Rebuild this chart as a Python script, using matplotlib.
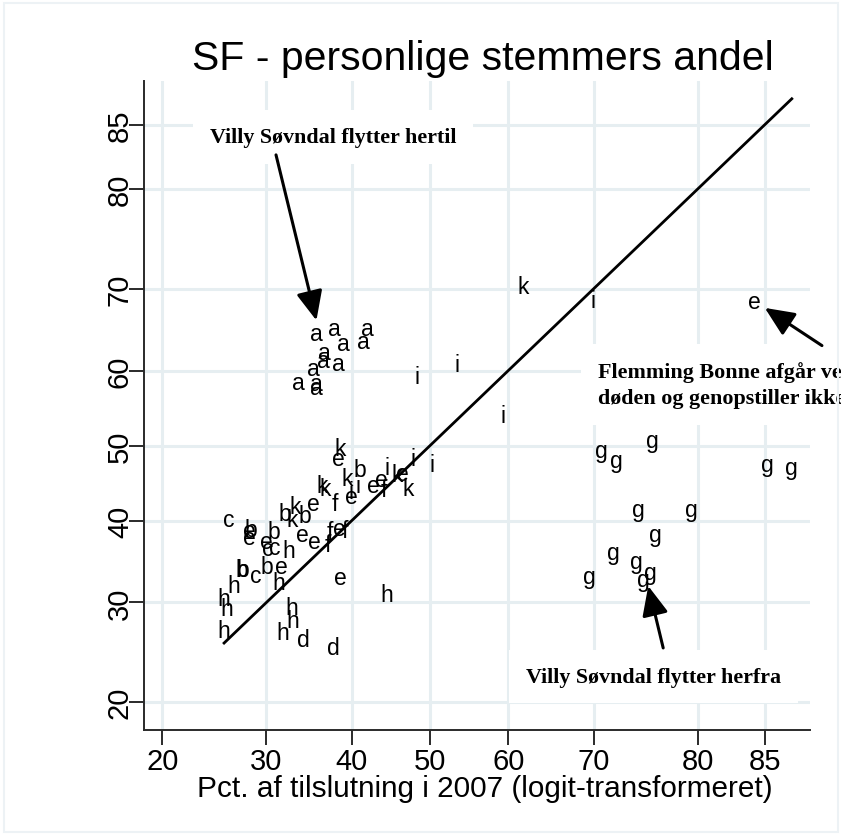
import numpy as np
import matplotlib
matplotlib.use("Agg")
import matplotlib.pyplot as plt
from matplotlib.patches import Rectangle

plt.rcParams['font.family'] = ['Liberation Sans', 'DejaVu Sans']

# ---------------- data ----------------
labels = (['a'] * 12 + ['b'] * 8 + ['c'] * 4 + ['d'] * 2 + ['e'] * 15 +
          ['f'] * 5 + ['g'] * 13 + ['h'] * 10 + ['i'] * 9 + ['k'] * 9)

pct_2007 = [
    # a
    35.7, 37.9, 41.9, 39.0, 41.4, 36.7, 36.5, 38.3, 35.3, 33.6, 35.7, 35.7,
    # b
    28.3, 30.8, 27.4, 27.5, 30.1, 32.1, 34.3, 41.0,
    # c
    26.1, 30.1, 30.9, 28.8,
    # d
    34.2, 37.7,
    # e
    28.2, 28.2, 30.0, 31.7, 34.0, 35.4, 38.6, 38.5, 35.3, 38.3, 39.9, 42.7, 43.8, 46.4, 84.3,
    # f
    37.3, 39.2, 37.1, 37.9, 44.1,
    # g
    70.9, 72.4, 76.0, 85.2, 86.7, 74.6, 79.5, 76.3, 72.1, 74.4, 75.8, 75.1, 69.5,
    # h
    32.5, 31.3, 26.6, 25.6, 25.9, 25.6, 32.8, 32.9, 31.8, 44.4,
    # i
    48.3, 53.5, 69.9, 59.4, 47.8, 50.3, 40.8, 44.5, 39.9,
    # k
    61.9, 38.6, 39.4, 36.4, 36.7, 47.2, 33.2, 32.9, 45.7,
]

pct_personal = [
    # a
    64.7, 65.3, 65.3, 63.4, 63.7, 62.3, 61.3, 60.9, 60.3, 58.4, 58.3, 57.8,
    # b
    38.9, 38.6, 33.9, 33.9, 34.2, 40.9, 40.7, 46.8,
    # c
    40.1, 36.5, 36.6, 33.1,
    # d
    26.0, 25.1,
    # e
    38.7, 37.9, 37.3, 34.2, 38.2, 37.3, 32.9, 39.0, 42.2, 48.3, 43.2, 44.6, 45.4, 46.2, 68.6,
    # f
    38.6, 38.7, 37.0, 42.2, 44.1,
    # g
    49.3, 48.0, 50.7, 47.5, 47.1, 41.5, 41.5, 38.2, 35.9, 34.9, 33.5, 32.7, 33.0,
    # h
    36.2, 32.3, 31.9, 30.5, 29.3, 26.9, 29.4, 28.0, 26.7, 30.9,
    # i
    59.2, 60.8, 68.7, 54.0, 48.2, 47.5, 44.7, 47.0, 43.9,
    # k
    70.3, 49.6, 45.6, 44.6, 44.3, 44.2, 41.9, 40.2, 46.1,
]

tick_values = [20, 30, 40, 50, 60, 70, 80, 85]
tick_labels = ['20', '30', '40', '50', '60', '70', '80', '85']

title = 'SF - personlige stemmers andel'
xlabel = 'Pct. af tilslutning i 2007 (logit-transformeret)'
note_top = 'Villy Søvndal flytter hertil'
note_bottom = 'Villy Søvndal flytter herfra'
note_right = 'Flemming Bonne afgår ved\ndøden og genopstiller ikke'


# ---------------- scales ----------------
def logit(p):
    p = np.clip(np.asarray(p, dtype=float), 1e-6, 100 - 1e-6)
    return np.log(p / (100 - p))


def inv_logit(L):
    return 100.0 / (1.0 + np.exp(-np.asarray(L, dtype=float)))


W, H = 841, 837
fig = plt.figure(figsize=(W / 100, H / 100), dpi=100)
ax = fig.add_axes([144.3 / W, 1 - 731 / H, (810 - 144.3) / W, (731 - 82) / H])
ax.set_xscale('function', functions=(logit, inv_logit))
ax.set_yscale('function', functions=(logit, inv_logit))
ax.set_xlim(18.54, 87.75)
ax.set_ylim(17.70, 87.77)

grid_c = '#e6eef1'
ax.set_xticks(tick_values)
ax.set_xticklabels(tick_labels)
ax.set_yticks(tick_values)
ax.set_yticklabels(tick_labels, rotation=90, va='center')
ax.minorticks_off()
ax.grid(True, color=grid_c, lw=2.2)
ax.set_axisbelow(True)

for s in ['top', 'right']:
    ax.spines[s].set_visible(False)
for s in ['left', 'bottom']:
    ax.spines[s].set_color('#2a2a2a')
    ax.spines[s].set_linewidth(1.4)
ax.tick_params(axis='both', direction='out', length=11, width=1.4,
               color='#2a2a2a', labelsize=21)
ax.tick_params(axis='x', pad=1)
ax.tick_params(axis='y', pad=-3.5)

# identity line over the range of the data
xs = np.linspace(min(pct_2007), max(pct_2007), 200)
ax.plot(xs, xs, color='black', lw=2.0, zorder=3)

# letter markers
for lab, xv, yv in zip(labels, pct_2007, pct_personal):
    ax.text(xv, yv, lab, ha='center', va='center', fontsize=16.5,
            color='black', zorder=5)

# annotations
note_kw = dict(fontfamily='Liberation Serif', fontweight='bold', fontsize=15.8,
               color='black', zorder=4,
               bbox=dict(facecolor='white', edgecolor='none', pad=12))
ax.text(24.23, 83.78, note_top, ha='left', va='baseline', **note_kw)
ax.text(62.18, 21.83, note_bottom, ha='left', va='baseline', **note_kw)
ax.text(70.48, 55.75, note_right, ha='left', va='baseline', linespacing=1.42,
        multialignment='left', **note_kw)

arrow_kw = dict(arrowstyle='-|>,head_length=0.9,head_width=0.4', lw=2.2,
                color='black', shrinkA=0, shrinkB=0, mutation_scale=20)
ax.annotate('', xy=(35.7, 66.3), xytext=(31.05, 82.8), arrowprops=arrow_kw,
            zorder=6, annotation_clip=False)
ax.annotate('', xy=(85.0, 67.8), xytext=(88.4, 63.2), arrowprops=arrow_kw,
            zorder=6, annotation_clip=False)
ax.annotate('', xy=(75.6, 31.9), xytext=(77.0, 25.1), arrowprops=arrow_kw,
            zorder=6, annotation_clip=False)

# titles
fig.text(483 / W, 1 - 70 / H, title, ha='center', va='baseline', fontsize=29.5)
fig.text(485 / W, 1 - 797 / H, xlabel, ha='center', va='baseline', fontsize=21.4)

# light outer frame
fig.patches.append(Rectangle((4 / W, 4 / H), 834 / W, 829 / H,
                             transform=fig.transFigure, fill=False,
                             ec='#edf2f5', lw=1.5))

fig.savefig('out.png', dpi=100)
